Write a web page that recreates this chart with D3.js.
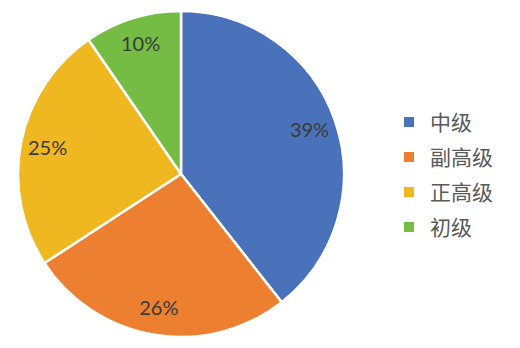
<!DOCTYPE html>
<html>
<head>
<meta charset="utf-8">
<script src="https://cdn.jsdelivr.net/npm/d3@7"></script>
<style>
  body { margin: 0; background: #fff; }
  #chart { width: 520px; height: 348px; }
</style>
</head>
<body>
<div id="chart"></div>
<script>
// chart data
const categories = ['中级', '副高级', '正高级', '初级'];
const values = [39.4, 26.4, 24.6, 9.6];
const labels = ['39%', '26%', '25%', '10%'];
const colors = ['#4A72BA', '#EC8030', '#F0B820', '#74BC44'];

const width = 520, height = 348;
const cx = 181, cy = 174, radius = 163;

const svg = d3.select('#chart')
  .append('svg')
  .attr('width', width).attr('height', height);

const g = svg.append('g')
  .attr('transform', `translate(${cx}, ${cy})`);

const pie = d3.pie().sort(null).value(d => d);
const arcs = pie(values);

const arc = d3.arc().innerRadius(0).outerRadius(radius);
const labelArc = d3.arc().innerRadius(136).outerRadius(136);

g.selectAll('path')
  .data(arcs)
  .enter().append('path')
  .attr('d', arc)
  .attr('fill', (d, i) => colors[i])
  .attr('stroke', '#fff')
  .attr('stroke-width', 2.5)
  .attr('stroke-linejoin', 'round');

g.selectAll('text.pct')
  .data(arcs)
  .enter().append('text')
  .attr('class', 'pct')
  .attr('transform', d => `translate(${labelArc.centroid(d)})`)
  .attr('text-anchor', 'middle')
  .attr('dy', '0.35em')
  .style('font-family', 'Lato, "Noto Sans", sans-serif')
  .style('font-size', '20px')
  .style('fill', '#3a3a3a')
  .text((d, i) => labels[i]);

// legend
const legendY = d3.scalePoint()
  .domain(categories)
  .range([122, 227]);

const legend = svg.append('g');
const items = legend.selectAll('g')
  .data(categories)
  .enter().append('g')
  .attr('transform', d => `translate(404, ${legendY(d)})`);

items.append('rect')
  .attr('x', 0).attr('y', -5)
  .attr('width', 10).attr('height', 10)
  .attr('fill', (d, i) => colors[i]);

items.append('text')
  .attr('x', 26)
  .attr('dy', '0.36em')
  .style('font-family', '"Noto Sans CJK SC", sans-serif')
  .style('font-size', '21px')
  .style('fill', '#595959')
  .text(d => d);
</script>
</body>
</html>
